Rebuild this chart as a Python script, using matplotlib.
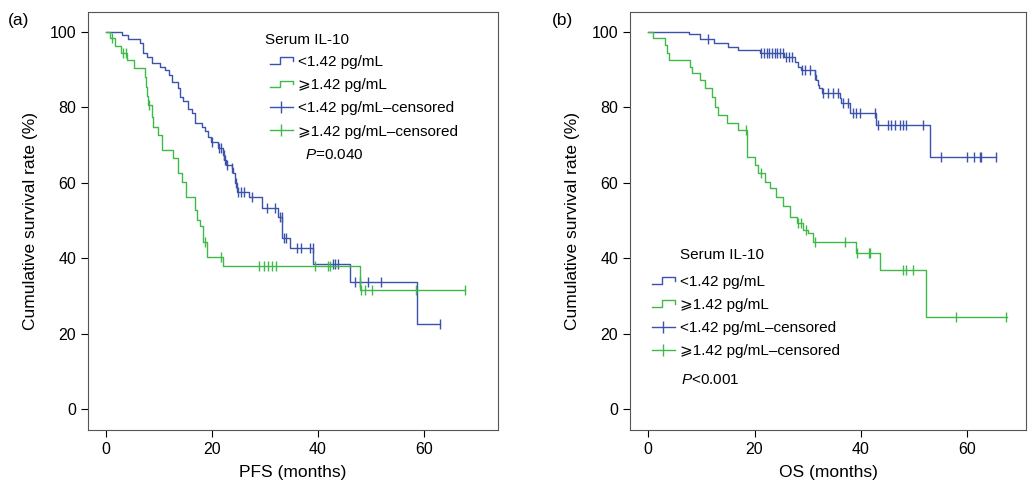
import numpy as np
import matplotlib.pyplot as plt
from matplotlib.lines import Line2D
from matplotlib.legend_handler import HandlerLine2D

plt.rcParams['font.family'] = ['Liberation Sans', 'DejaVu Sans']
plt.rcParams['mathtext.fontset'] = 'custom'
plt.rcParams['mathtext.it'] = 'Liberation Sans:italic'
plt.rcParams['mathtext.rm'] = 'Liberation Sans'

blue = '#3d52ad'
green = '#3fba48'

# ---- (a) PFS ----
pfs_low_t = [0, 3.1, 4.2, 6.4, 6.9, 7.7, 8.6, 10.2, 11.1, 11.8, 12.4, 13.5, 14.0, 14.6, 15.5,
             16.2, 16.8, 18.1, 18.7, 19.3, 19.9, 21.2, 22.1, 22.3, 22.6, 23.7, 24.0, 24.3, 24.7,
             26.9, 29.4, 32.5, 33.3, 34.8, 39.1, 46.0, 58.7]
pfs_low_s = [100, 99.2, 98.1, 97.0, 94.3, 93.3, 91.7, 90.8, 89.9, 88.6, 86.8, 85.1, 82.8, 81.7, 79.5,
             78.4, 75.8, 74.9, 73.6, 72.2, 70.9, 69.2, 67.4, 66.0, 64.7, 63.8, 62.5, 59.9, 57.6,
             56.2, 53.2, 51.0, 45.3, 42.6, 38.4, 33.6, 22.5]
pfs_low_end = 63.1
pfs_low_cens = [20.0, 21.4, 21.7, 22.2, 22.4, 22.8, 23.8, 24.5, 24.9, 25.5, 26.1, 27.5, 30.4, 31.9,
                32.8, 33.2, 33.6, 34.0, 36.0, 36.9, 38.5, 39.0, 42.9, 43.3, 43.8, 47.0, 47.9,
                49.5, 52.0, 63.0]

pfs_high_t = [0, 0.75, 1.7, 2.8, 3.9, 5.2, 7.4, 7.6, 7.8, 8.0, 8.6, 8.8, 9.9, 10.5, 12.7, 13.6,
              14.3, 15.1, 16.8, 17.1, 17.7, 18.4, 19.0, 22.1, 47.9]
pfs_high_s = [100, 98.3, 96.3, 94.3, 92.6, 90.4, 88.0, 85.5, 83.0, 80.6, 77.5, 74.9, 72.7, 68.7,
              66.5, 62.5, 60.3, 56.3, 52.8, 50.1, 48.4, 44.4, 40.2, 37.9, 31.6]
pfs_high_end = 67.7
pfs_high_cens = [1.1, 3.3, 3.8, 8.2, 18.6, 21.8, 28.9, 29.9, 30.6, 31.3, 32.0, 39.4, 41.9, 42.2,
                 48.2, 48.9, 50.2, 58.6, 67.7]

# ---- (b) OS ----
os_low_t = [0, 7.6, 9.8, 12.3, 15.1, 16.8, 21.0, 25.5, 27.6, 28.2, 28.7, 31.3, 31.6, 31.9, 32.2,
            32.6, 36.1, 36.3, 37.9, 42.9, 52.9]
os_low_s = [100, 99.4, 98.1, 97.0, 96.1, 95.2, 94.3, 93.4, 92.1, 90.8, 89.9, 88.6, 87.3, 85.9, 85.1,
            83.7, 82.4, 81.1, 78.4, 75.2, 66.8]
os_low_end = 65.4
os_low_cens = [11.3, 21.2, 21.8, 22.3, 22.8, 23.3, 23.8, 24.3, 24.8, 25.3, 25.9, 26.5, 27.0, 28.9,
               29.5, 30.4, 31.4, 32.9, 33.8, 34.7, 35.7, 36.6, 37.5, 38.5, 39.1, 39.8, 42.6,
               43.2, 45.1, 45.7, 46.3, 47.3, 47.9, 48.5, 51.7, 55.0, 59.9, 61.3, 62.3, 62.6, 65.3]

os_high_t = [0, 1.0, 3.2, 3.5, 4.0, 7.9, 8.2, 9.8, 10.7, 12.0, 12.6, 13.2, 14.8, 16.9, 18.5, 20.1,
             20.7, 22.0, 22.9, 24.1, 25.4, 26.6, 27.9, 29.1, 30.1, 31.0, 39.0, 43.5, 52.3]
os_high_s = [100, 98.3, 96.6, 94.3, 92.6, 90.8, 89.0, 87.3, 85.1, 82.8, 80.2, 78.0, 75.8, 74.0, 66.9,
             64.7, 62.5, 60.3, 58.5, 56.3, 53.7, 51.0, 49.3, 47.5, 46.6, 44.4, 41.3, 36.8, 24.5]
os_high_end = 67.5
os_high_cens = [18.3, 21.3, 28.2, 28.8, 29.7, 31.3, 37.0, 39.2, 41.5, 41.7, 47.9, 48.4, 49.7,
                57.9, 67.3]

labels = ['<1.42 pg/mL', '\u2a7e1.42 pg/mL', '<1.42 pg/mL\u2013censored', '\u2a7e1.42 pg/mL\u2013censored']


class StepHandler(HandlerLine2D):
    def create_artists(self, legend, orig_handle, xdescent, ydescent, width, height, fontsize, trans):
        x0 = -xdescent
        y0 = -ydescent
        xs = [x0, x0 + 0.45 * width, x0 + 0.45 * width, x0 + width, x0 + width]
        ys = [y0 + 0.2 * height, y0 + 0.2 * height, y0 + 0.8 * height, y0 + 0.8 * height, y0 + 0.45 * height]
        ln = Line2D(xs, ys, color=orig_handle.get_color(), lw=1.0, transform=trans)
        return [ln]


def km(ax, t, s, end, cens, color):
    tt = list(t) + [end]
    ss = list(s) + [s[-1]]
    ax.step(tt, ss, where='post', color=color, lw=1.0)
    idx = np.searchsorted(t, cens, side='right') - 1
    cy = np.array(s)[idx]
    ax.plot(cens, cy, ls='none', marker='|', ms=7, mew=1.0, color=color)


def panel(ax, data, xlabel, xmax, ptext, title_pos, leg_anchor, p_pos):
    (t1, s1, e1, c1), (t2, s2, e2, c2) = data
    km(ax, t1, s1, e1, c1, blue)
    km(ax, t2, s2, e2, c2, green)
    ax.set_xlim(-3.4, xmax)
    ax.set_ylim(-5.6, 105.3)
    ax.set_xticks([0, 20, 40, 60])
    ax.set_yticks([0, 20, 40, 60, 80, 100])
    ax.tick_params(direction='out', length=5, labelsize=11.5)
    ax.set_xlabel(xlabel, fontsize=12.5, labelpad=6)
    ax.set_ylabel('Cumulative survival rate (%)', fontsize=12.5, labelpad=8)
    for sp in ax.spines.values():
        sp.set_color('#555555')
        sp.set_linewidth(0.8)
    handles = [Line2D([0], [0], color=blue), Line2D([0], [0], color=green),
               Line2D([0], [0], color=blue, marker='|', ms=9, lw=1.0),
               Line2D([0], [0], color=green, marker='|', ms=9, lw=1.0)]
    ax.legend(handles, labels, loc='upper left', bbox_to_anchor=leg_anchor,
              frameon=False, fontsize=11, handlelength=1.5, handletextpad=0.35,
              labelspacing=0.6, numpoints=1,
              handler_map={handles[0]: StepHandler(), handles[1]: StepHandler()})
    ax.text(title_pos[0], title_pos[1], 'Serum IL-10', transform=ax.transAxes, fontsize=11, va='center')
    ax.text(p_pos[0], p_pos[1], ptext, transform=ax.transAxes, fontsize=11, va='center')


fig = plt.figure(figsize=(10.29, 4.82), dpi=100)
ax1 = fig.add_axes([88 / 1029, 52 / 482, 410 / 1029, 418 / 482])
ax2 = fig.add_axes([630 / 1029, 52 / 482, 396 / 1029, 418 / 482])

panel(ax1, [(pfs_low_t, pfs_low_s, pfs_low_end, pfs_low_cens),
            (pfs_high_t, pfs_high_s, pfs_high_end, pfs_high_cens)],
      'PFS (months)', 74, '$P$=0.040', (0.432, 0.933), (0.41, 0.93), (0.53, 0.657))
panel(ax2, [(os_low_t, os_low_s, os_low_end, os_low_cens),
            (os_high_t, os_high_s, os_high_end, os_high_cens)],
      'OS (months)', 71, '$P$<0.001', (0.126, 0.419), (0.02, 0.404), (0.128, 0.12))

fig.text(8 / 1029, 1 - 20 / 482, '(a)', fontsize=12.5, va='center')
fig.text(552 / 1029, 1 - 20 / 482, '(b)', fontsize=12.5, va='center')

fig.savefig('out.png', dpi=100)
